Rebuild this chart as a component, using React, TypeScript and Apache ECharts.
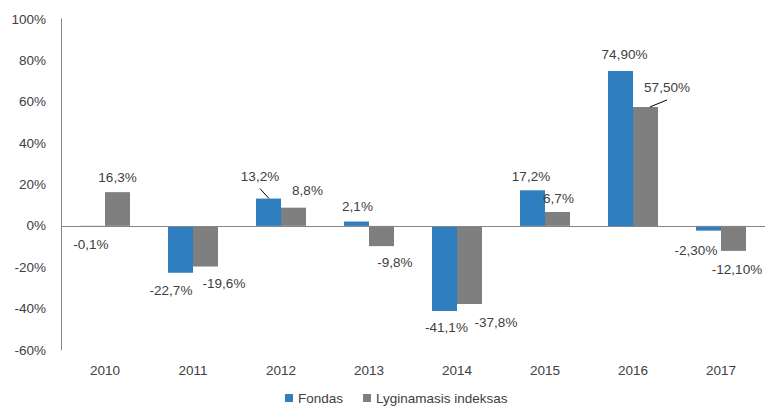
import React, { useEffect, useRef } from "react";
import * as echarts from "echarts";

const years = ["2010", "2011", "2012", "2013", "2014", "2015", "2016", "2017"];
const fondas = [-0.1, -22.7, 13.2, 2.1, -41.1, 17.2, 74.9, -2.3];
const indeksas = [16.3, -19.6, 8.8, -9.8, -37.8, 6.7, 57.5, -12.1];
const fondasLabels = ["-0,1%", "-22,7%", "13,2%", "2,1%", "-41,1%", "17,2%", "74,90%", "-2,30%"];
const indeksasLabels = ["16,3%", "-19,6%", "8,8%", "-9,8%", "-37,8%", "6,7%", "57,50%", "-12,10%"];

// label offsets (style)
const fondasOffsets = [[-1.5, 10], [-9.5, 10], [-8.5, -14], [1, -7], [2, 9], [-1.5, -6], [4, -8], [-12.5, 12]];
const indeksasOffsets = [[0, -7], [18.5, 9.5], [14, -9], [13.5, 8], [26.5, 10], [1, -6], [21.5, -11], [3.5, 11]];

// leader lines: [seriesValues, index, start offset, end offset] relative to category centre / bar top
const leaders: [number[], number, number[], number[]][] = [
  [fondas, 2, [-21, -10], [-12, 0]],
  [indeksas, 6, [34, -7], [17, 0]],
];

const BLUE = "#2E7EC0";
const GRAY = "#7F7F7F";
const TEXT = "#404040";
const FONT = "Liberation Sans";

function mkData(vals: number[], labels: string[], offs: number[][]) {
  return vals.map((v, i) => ({
    value: v,
    label: {
      show: true,
      position: v >= 0 ? "top" : "bottom",
      distance: 0,
      offset: offs[i],
      formatter: labels[i],
      color: TEXT,
      fontSize: 13.5,
      fontFamily: FONT,
      lineHeight: 16,
    },
  }));
}

export default function App() {
  const ref = useRef<HTMLDivElement>(null);
  useEffect(() => {
    if (!ref.current) return;
    const chart = echarts.init(ref.current, null, { renderer: "svg" });
    chart.setOption({
      animation: false,
      textStyle: { fontFamily: FONT },
      grid: { left: 61, right: 0, top: 19, bottom: 60 },
      legend: {
        left: 280,
        top: 386,
        itemWidth: 8,
        itemHeight: 8,
        itemGap: 20,
        icon: "rect",
        textStyle: { color: TEXT, fontSize: 13.5, fontFamily: FONT },
        data: ["Fondas", "Lyginamasis indeksas"],
      },
      xAxis: {
        type: "category",
        data: years,
        axisLine: { show: false, onZero: false },
        axisTick: { show: false },
        axisLabel: { color: TEXT, fontSize: 13.5, fontFamily: FONT, margin: 13 },
      },
      yAxis: {
        type: "value",
        min: -60,
        max: 100,
        interval: 20,
        splitLine: { show: false },
        axisLine: { show: true, lineStyle: { color: "#868686", width: 1 } },
        axisTick: { show: false },
        axisLabel: { formatter: "{value}%", color: TEXT, fontSize: 13.5, fontFamily: FONT, margin: 15 },
      },
      series: [
        {
          name: "Fondas",
          type: "bar",
          barWidth: 25,
          barGap: "0%",
          itemStyle: { color: BLUE },
          data: mkData(fondas, fondasLabels, fondasOffsets),
          markLine: {
            silent: true,
            symbol: ["none", "none"],
            label: { show: false },
            lineStyle: { color: "#868686", type: "solid", width: 1 },
            data: [{ yAxis: 0 }],
          },
        },
        {
          name: "Lyginamasis indeksas",
          type: "bar",
          barWidth: 25,
          barGap: "0%",
          itemStyle: { color: GRAY },
          data: mkData(indeksas, indeksasLabels, indeksasOffsets),
        },
      ],
    });
    const graphics = leaders.map(([vals, idx, s, e]) => {
      const p = chart.convertToPixel({ gridIndex: 0 }, [idx, vals[idx]]) as number[];
      return {
        type: "line",
        silent: true,
        shape: { x1: p[0] + s[0], y1: p[1] + s[1], x2: p[0] + e[0], y2: p[1] + e[1] },
        style: { stroke: "#000", lineWidth: 1 },
        z: 10,
      };
    });
    chart.setOption({ graphic: graphics });
    return () => chart.dispose();
  }, []);
  return <div ref={ref} style={{ width: 765, height: 410, position: "absolute", left: 0, top: 0 }} />;
}
